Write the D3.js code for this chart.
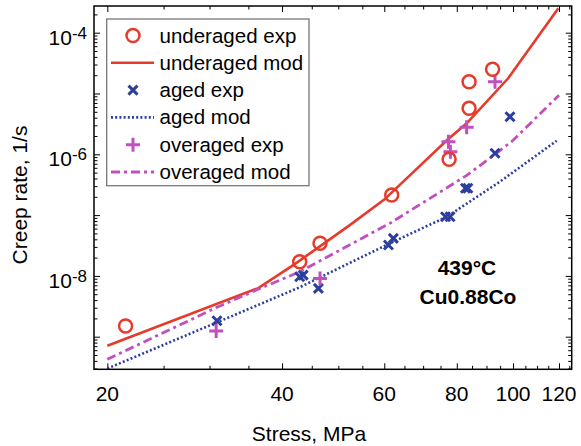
<!DOCTYPE html>
<html>
<head>
<meta charset="utf-8">
<script src="https://cdn.jsdelivr.net/npm/d3@7"></script>
<style>
body { margin: 0; background: #fff; }
svg text { font-family: "Liberation Sans", Arial, Helvetica, sans-serif; fill: #000; }
</style>
</head>
<body>
<svg id="chart" width="581" height="446"></svg>
<script>
// stress in MPa, creep rate in 1/s
const underagedExpStress = [21.5, 42.9, 46.5, 61.8, 77.6, 84.0, 84.0, 92.2];
const underagedExpRate = [1.5e-9, 1.71e-8, 3.44e-8, 2.14e-7, 8.3e-7, 5.7e-6, 1.56e-5, 2.5e-5];

const underagedModStress = [20, 36.4, 42, 47, 52.4, 60, 77, 83.2, 98.1, 119.7];
const underagedModRate = [7.1e-10, 6.3e-9, 1.55e-8, 3.3e-8, 6.9e-8, 1.8e-7, 1.72e-6, 3.24e-6, 1.78e-5, 2.52e-4];

const agedExpStress = [30.9, 42.9, 43.5, 46.2, 61.0, 62.2, 76.5, 77.9, 82.8, 83.6, 93.1, 98.8];
const agedExpRate = [1.83e-9, 9.7e-9, 1.03e-8, 6.25e-9, 3.22e-8, 4.15e-8, 9.4e-8, 9.4e-8, 2.76e-7, 2.76e-7, 1.04e-6, 4.15e-6];

const agedModStress = [20, 30.9, 42.9, 61.4, 76.9, 94.9, 118.9];
const agedModRate = [3.0e-10, 1.72e-9, 6.5e-9, 3.44e-8, 9.4e-8, 3.54e-7, 1.67e-6];

const overagedExpStress = [30.8, 46.5, 77.4, 78.0, 83.2, 93.1];
const overagedExpRate = [1.24e-9, 9.1e-9, 1.61e-6, 1.10e-6, 2.78e-6, 1.56e-5];

const overagedModStress = [20, 30.9, 36.2, 42.9, 61.6, 83.2, 93.1, 100, 120];
const overagedModRate = [4.25e-10, 3.05e-9, 5.9e-9, 1.17e-8, 7.5e-8, 4.5e-7, 1.0e-6, 1.7e-6, 9.4e-6];

const xTickValues = [20, 40, 60, 80, 100, 120];
const yTickExponents = [-8, -6, -4];

const legendLabels = ['underaged exp', 'underaged mod', 'aged exp', 'aged mod', 'overaged exp', 'overaged mod'];

const red = '#e63a2b', blue = '#2d3f9e', magenta = '#c24fbf';

const zip = (xs, ys) => xs.map((v, i) => [v, ys[i]]);

const svg = d3.select('#chart');
const plotL = 94, plotR = 571.7, plotT = 6, plotB = 369.3;

const x = d3.scaleLog().domain([18.97, 126.2]).range([plotL, plotR]);
const y = d3.scaleLog().domain([2.75e-4, 2.91e-10]).range([plotT, plotB]);

svg.append('defs').append('clipPath').attr('id', 'clip')
    .append('rect').attr('x', plotL).attr('y', plotT)
    .attr('width', plotR - plotL).attr('height', plotB - plotT);

// ticks: every 5 MPa on x, decades + 2..9 on y
const xMinor = d3.range(20, 126, 5).filter(v => xTickValues.indexOf(v) < 0);
const yMajor = d3.range(-9, -3).map(e => Math.pow(10, e));
const yMinor = [];
d3.range(-10, -3).forEach(e => {
    for (let k = 2; k <= 9; k++) {
        const v = k * Math.pow(10, e);
        if (v > 2.91e-10 && v < 2.75e-4) yMinor.push(v);
    }
});

const axes = svg.append('g');
const addAxis = (gen, tr, vals, size) => {
    axes.append('g').attr('transform', tr)
        .call(gen.tickValues(vals).tickSize(size).tickFormat(''))
        .call(g => g.select('.domain').remove())
        .call(g => g.selectAll('line').attr('stroke', '#000').attr('stroke-width', 1));
};
addAxis(d3.axisBottom(x), `translate(0,${plotB})`, xTickValues, -6);
addAxis(d3.axisBottom(x), `translate(0,${plotB})`, xMinor, -3.5);
addAxis(d3.axisTop(x), `translate(0,${plotT})`, xTickValues, -6);
addAxis(d3.axisTop(x), `translate(0,${plotT})`, xMinor, -3.5);
addAxis(d3.axisLeft(y), `translate(${plotL},0)`, yMajor, -6);
addAxis(d3.axisLeft(y), `translate(${plotL},0)`, yMinor, -3.5);
addAxis(d3.axisRight(y), `translate(${plotR},0)`, yMajor, -6);
addAxis(d3.axisRight(y), `translate(${plotR},0)`, yMinor, -3.5);

// tick labels
svg.append('g').selectAll('text').data(xTickValues).join('text')
    .attr('x', d => x(d)).attr('y', 401)
    .attr('text-anchor', 'middle').attr('font-size', 21)
    .text(d => d);

const yLab = svg.append('g').selectAll('text').data(yTickExponents).join('text')
    .attr('x', 87).attr('y', d => y(Math.pow(10, d)) + 12)
    .attr('text-anchor', 'end').attr('font-size', 21);
yLab.append('tspan').text('10');
yLab.append('tspan').attr('font-size', 17).attr('dy', -6).text(d => '-' + Math.abs(d));

// axis titles
svg.append('text').attr('x', 309).attr('y', 441)
    .attr('text-anchor', 'middle').attr('font-size', 21).text('Stress, MPa');
svg.append('text').attr('transform', 'translate(27,195) rotate(-90)')
    .attr('text-anchor', 'middle').attr('font-size', 21).text('Creep rate, 1/s');

// model curves
const line = d3.line().x(d => x(d[0])).y(d => y(d[1]));
const plot = svg.append('g').attr('clip-path', 'url(#clip)');

plot.append('path').datum(zip(underagedModStress, underagedModRate))
    .attr('d', line).attr('fill', 'none')
    .attr('stroke', red).attr('stroke-width', 2.6);
plot.append('path').datum(zip(agedModStress, agedModRate))
    .attr('d', line).attr('fill', 'none')
    .attr('stroke', blue).attr('stroke-width', 2.6).attr('stroke-dasharray', '2,2.2');
plot.append('path').datum(zip(overagedModStress, overagedModRate))
    .attr('d', line).attr('fill', 'none')
    .attr('stroke', magenta).attr('stroke-width', 2.8).attr('stroke-dasharray', '9,4,3,4');

// markers
const drawCircle = (g, cx, cy) => g.append('circle').attr('cx', cx).attr('cy', cy).attr('r', 6.5)
    .attr('fill', 'none').attr('stroke', red).attr('stroke-width', 2.5);
const drawCross = (g, cx, cy) => g.append('path')
    .attr('d', `M${cx - 4.5},${cy - 4.5}L${cx + 4.5},${cy + 4.5}M${cx - 4.5},${cy + 4.5}L${cx + 4.5},${cy - 4.5}`)
    .attr('stroke', blue).attr('stroke-width', 3);
const drawPlus = (g, cx, cy) => g.append('path')
    .attr('d', `M${cx - 7},${cy}L${cx + 7},${cy}M${cx},${cy - 7}L${cx},${cy + 7}`)
    .attr('stroke', magenta).attr('stroke-width', 3);

zip(agedExpStress, agedExpRate).forEach(d => drawCross(plot, x(d[0]), y(d[1])));
zip(overagedExpStress, overagedExpRate).forEach(d => drawPlus(plot, x(d[0]), y(d[1])));
zip(underagedExpStress, underagedExpRate).forEach(d => drawCircle(plot, x(d[0]), y(d[1])));

// frame
svg.append('rect').attr('x', plotL).attr('y', plotT)
    .attr('width', plotR - plotL).attr('height', plotB - plotT)
    .attr('fill', 'none').attr('stroke', '#000').attr('stroke-width', 1.5);

// annotation
svg.append('text').attr('x', 467).attr('y', 275).attr('text-anchor', 'middle')
    .attr('font-size', 21).attr('font-weight', 'bold').text('439°C');
svg.append('text').attr('x', 468).attr('y', 304).attr('text-anchor', 'middle')
    .attr('font-size', 21).attr('font-weight', 'bold').text('Cu0.88Co');

// legend
const legend = svg.append('g');
legend.append('rect').attr('x', 106.7).attr('y', 19).attr('width', 202.3).attr('height', 166.7)
    .attr('fill', '#fff').attr('stroke', '#777').attr('stroke-width', 1.3);
const rowY = i => 35.5 + i * 27.3;
drawCircle(legend, 133, rowY(0));
legend.append('line').attr('x1', 111).attr('x2', 154).attr('y1', rowY(1)).attr('y2', rowY(1))
    .attr('stroke', red).attr('stroke-width', 2.6);
drawCross(legend, 133, rowY(2));
legend.append('line').attr('x1', 111).attr('x2', 154).attr('y1', rowY(3)).attr('y2', rowY(3))
    .attr('stroke', blue).attr('stroke-width', 2.6).attr('stroke-dasharray', '2,2.2');
drawPlus(legend, 133, rowY(4));
legend.append('line').attr('x1', 111).attr('x2', 154).attr('y1', rowY(5)).attr('y2', rowY(5))
    .attr('stroke', magenta).attr('stroke-width', 2.8).attr('stroke-dasharray', '9,4,3,4');
legend.selectAll('text.lab').data(legendLabels).join('text').attr('class', 'lab')
    .attr('x', 159.5).attr('y', (d, i) => rowY(i) + 7)
    .attr('font-size', 20.5).text(d => d);
</script>
</body>
</html>
